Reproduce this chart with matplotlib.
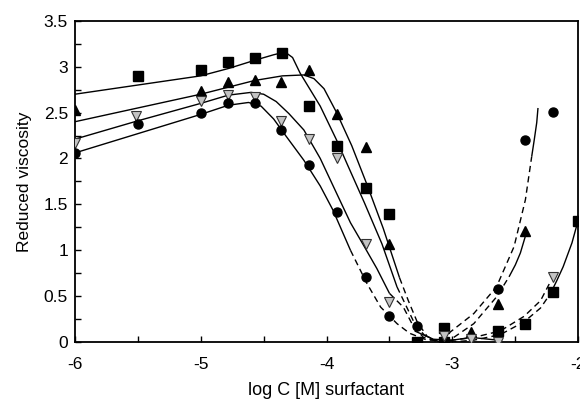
import numpy as np
import matplotlib
matplotlib.use("Agg")
import matplotlib.pyplot as plt
from matplotlib.ticker import MultipleLocator, FormatStrFormatter

plt.rcParams["font.family"] = ["Liberation Sans", "DejaVu Sans"]
plt.rcParams["axes.unicode_minus"] = False

# measured points (log C, reduced viscosity)
sq_x = [-5.5, -5.0, -4.78, -4.57, -4.35, -4.14, -3.92, -3.69, -3.50, -3.28, -3.07, -3.07, -2.64, -2.42, -2.20, -2.00]
sq_y = [2.90, 2.96, 3.05, 3.10, 3.15, 2.57, 2.14, 1.68, 1.40, 0.00, 0.15, 0.00, 0.12, 0.20, 0.54, 1.32]

tri_x = [-6.0, -5.0, -4.78, -4.57, -4.36, -4.14, -3.92, -3.69, -3.50, -2.85, -2.64, -2.42]
tri_y = [2.53, 2.74, 2.83, 2.86, 2.83, 2.96, 2.48, 2.12, 1.07, 0.11, 0.41, 1.21]

gtri_x = [-6.0, -5.51, -5.0, -4.78, -4.57, -4.36, -4.14, -3.92, -3.69, -3.50, -3.07, -2.85, -2.64, -2.20]
gtri_y = [2.17, 2.46, 2.63, 2.69, 2.67, 2.41, 2.21, 2.01, 1.07, 0.44, 0.07, 0.03, 0.00, 0.71]

circ_x = [-6.0, -5.5, -5.0, -4.78, -4.57, -4.36, -4.14, -3.92, -3.69, -3.50, -3.28, -2.64, -2.42, -2.20]
circ_y = [2.06, 2.38, 2.50, 2.60, 2.60, 2.31, 1.93, 1.42, 0.71, 0.28, 0.17, 0.58, 2.20, 2.51]

# hand-drawn fit curves
sq_fit_x = [-6.0, -5.5, -5.0, -4.78, -4.57, -4.42, -4.33, -4.27, -4.21, -4.05, -3.92, -3.83, -3.70, -3.56, -3.44]
sq_fit_y = [2.70, 2.80, 2.90, 2.98, 3.07, 3.13, 3.16, 3.10, 2.93, 2.57, 2.20, 1.92, 1.52, 1.07, 0.60]
sq_dash_x = [-3.44, -3.37, -3.30, -3.22, -3.12, -3.0, -2.83, -2.62, -2.43, -2.30, -2.22]
sq_dash_y = [0.60, 0.40, 0.20, 0.07, 0.00, 0.00, 0.02, 0.08, 0.22, 0.37, 0.53]
sq_end_x = [-2.22, -2.17, -2.12, -2.05, -2.0]
sq_end_y = [0.53, 0.67, 0.82, 1.08, 1.33]

tri_fit_x = [-6.0, -5.5, -5.0, -4.57, -4.35, -4.18, -4.10, -4.02, -3.92, -3.80, -3.68, -3.55, -3.42]
tri_fit_y = [2.40, 2.55, 2.70, 2.85, 2.90, 2.91, 2.87, 2.76, 2.50, 2.14, 1.72, 1.24, 0.70]
tri_dash_x = [-3.42, -3.35, -3.28, -3.20, -3.10, -3.0, -2.83, -2.65, -2.55]
tri_dash_y = [0.70, 0.45, 0.22, 0.06, 0.00, 0.04, 0.20, 0.49, 0.71]
tri_end_x = [-2.55, -2.50, -2.46, -2.41]
tri_end_y = [0.71, 0.84, 0.97, 1.20]

gtri_fit_x = [-6.0, -5.5, -5.0, -4.78, -4.6, -4.5, -4.4, -4.3, -4.18, -4.05, -3.92, -3.81, -3.70, -3.60, -3.50]
gtri_fit_y = [2.21, 2.41, 2.60, 2.69, 2.72, 2.70, 2.62, 2.49, 2.31, 2.00, 1.62, 1.30, 1.04, 0.80, 0.53]
gtri_dash_x = [-3.50, -3.39, -3.31, -3.23, -3.10, -3.0, -2.83, -2.62, -2.43, -2.30, -2.22]
gtri_dash_y = [0.53, 0.38, 0.17, 0.05, 0.00, 0.02, 0.05, 0.12, 0.28, 0.45, 0.66]

circ_fit_x = [-6.0, -5.5, -5.0, -4.78, -4.62, -4.52, -4.42, -4.32, -4.18, -4.05, -3.95, -3.81]
circ_fit_y = [2.06, 2.27, 2.48, 2.58, 2.61, 2.57, 2.43, 2.24, 1.98, 1.70, 1.44, 1.00]
circ_dash_x = [-3.81, -3.68, -3.57, -3.44, -3.34, -3.20, -3.10, -2.96, -2.83, -2.65, -2.51, -2.42, -2.37]
circ_dash_y = [1.00, 0.64, 0.38, 0.20, 0.095, 0.02, 0.02, 0.17, 0.31, 0.60, 1.04, 1.55, 2.02]
circ_end_x = [-2.37, -2.35, -2.33, -2.32]
circ_end_y = [2.02, 2.20, 2.39, 2.55]

# little flat bits near the minimum
low_x = [-3.30, -3.15, -3.0, -2.85, -2.64]
low_y = [0.12, 0.03, 0.02, 0.05, 0.02]

fig = plt.figure(figsize=(5.8, 4.0), dpi=100)
ax = fig.add_axes([0.129, 0.145, 0.868, 0.803])

lw = 1.0
dash = (0, (4.5, 3))
for fx, fy in [(sq_fit_x, sq_fit_y), (tri_fit_x, tri_fit_y), (gtri_fit_x, gtri_fit_y),
               (circ_fit_x, circ_fit_y), (sq_end_x, sq_end_y), (tri_end_x, tri_end_y),
               (circ_end_x, circ_end_y), (low_x, low_y)]:
    ax.plot(fx, fy, color="black", lw=lw, solid_capstyle="butt")
for fx, fy in [(sq_dash_x, sq_dash_y), (tri_dash_x, tri_dash_y),
               (gtri_dash_x, gtri_dash_y), (circ_dash_x, circ_dash_y)]:
    ax.plot(fx, fy, color="black", lw=lw, linestyle=dash)

ax.plot(sq_x, sq_y, ls="none", marker="s", ms=6.5, color="black", zorder=5)
ax.plot(tri_x, tri_y, ls="none", marker="^", ms=7.5, color="black", zorder=5)
ax.plot(gtri_x, gtri_y, ls="none", marker="v", ms=7.5, mfc="#c4c4c4", mec="#333333",
        mew=0.8, zorder=5)
ax.plot(circ_x, circ_y, ls="none", marker="o", ms=6.5, color="black", zorder=5)

ax.set_xlim(-6, -2)
ax.set_ylim(0, 3.5)
ax.xaxis.set_major_locator(MultipleLocator(1))
ax.xaxis.set_minor_locator(MultipleLocator(0.5))
ax.yaxis.set_major_locator(MultipleLocator(0.5))
ax.yaxis.set_minor_locator(MultipleLocator(0.25))
ax.xaxis.set_major_formatter(FormatStrFormatter("%g"))
ax.yaxis.set_major_formatter(FormatStrFormatter("%g"))
ax.tick_params(which="both", direction="in", length=4, width=1.0,
               top=False, right=False, labelsize=12.5)
ax.tick_params(axis="x", pad=11)
ax.tick_params(axis="y", pad=5)
for s in ax.spines.values():
    s.set_linewidth(1.3)

ax.set_xlabel("log C [M] surfactant", fontsize=13, labelpad=7)
ax.set_ylabel("Reduced viscosity", fontsize=12.5, labelpad=8)

fig.savefig("out.png", dpi=100)
